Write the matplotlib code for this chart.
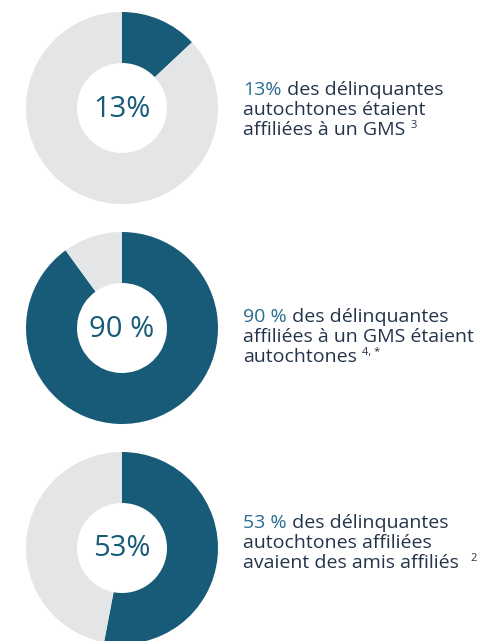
import matplotlib.pyplot as plt

# values
pcts = [13, 90, 53]
centre_labels = ["13%", "90 %", "53%"]
lead = ["13%", "90 %", "53 %"]
lines = [
    [" des délinquantes", "autochtones étaient", "affiliées à un GMS"],
    [" des délinquantes", "affiliées à un GMS étaient", "autochtones"],
    [" des délinquantes", "autochtones affiliées", "avaient des amis affiliés"],
]
notes = ["3", "4, *", "2"]

W, H = 489, 641
dark = "#175b78"
grey = "#e4e5e7"
txt = "#24344a"
blue = "#2a6d91"

plt.rcParams['font.family'] = ['Open Sans', 'DejaVu Sans']

fig = plt.figure(figsize=(W / 100, H / 100), dpi=100)
ax = fig.add_axes([0, 0, 1, 1])

centres = [108, 328, 548]
text_y = [95, 322, 528]

for i, p in enumerate(pcts):
    cy = H - centres[i]
    ax.pie([p, 100 - p], center=(122, cy), radius=96, startangle=90,
           counterclock=False, colors=[dark, grey], frame=True,
           wedgeprops=dict(width=51, edgecolor='none'))
    ax.text(122, cy - 1, centre_labels[i], ha='center', va='center',
            fontsize=21, color=dark)

    y0 = H - text_y[i]
    first = ax.text(243, y0, lead[i], fontsize=14, color=blue, va='baseline')
    ax.annotate(lines[i][0], xy=(1, 0), xycoords=first, va='bottom',
                fontsize=14, color=txt)
    last = None
    for k in (1, 2):
        last = ax.text(243, y0 - 20 * k, lines[i][k], fontsize=14,
                       color=txt, va='baseline')
    # superscript note refs
    ax.annotate(notes[i], xy=(1, 0), xycoords=last, xytext=(4 if i < 2 else 8, 6),
                textcoords='offset points', va='bottom', fontsize=8, color=txt)

ax.set_xlim(0, W)
ax.set_ylim(0, H)
ax.set_aspect('equal')
ax.axis('off')

fig.savefig("out.png", dpi=100, facecolor='white')
